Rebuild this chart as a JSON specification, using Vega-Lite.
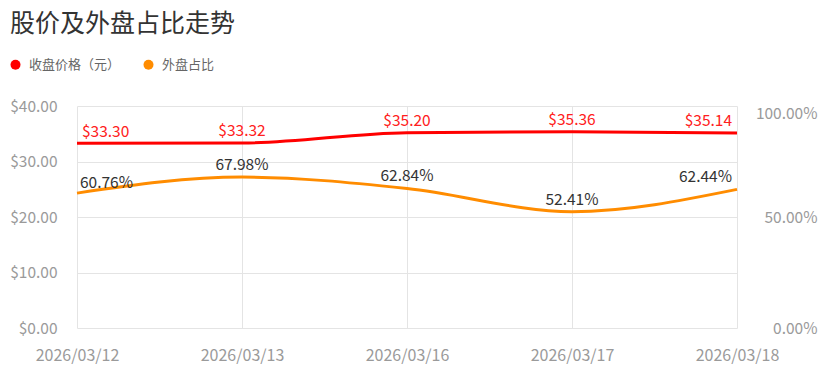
{
  "$schema": "https://vega.github.io/schema/vega-lite/v6.json",
  "width": 660,
  "height": 222,
  "autosize": {"type": "none"},
  "padding": {"left": 77, "top": 106, "right": 89, "bottom": 45},
  "background": "white",
  "title": {
    "text": "股价及外盘占比走势",
    "anchor": "start",
    "frame": "group",
    "dx": -67,
    "offset": 21,
    "fontSize": 25,
    "fontWeight": "normal",
    "font": "Noto Sans CJK SC",
    "color": "#333333"
  },
  "config": {
    "view": {"stroke": null},
    "font": "Noto Sans CJK SC",
    "axis": {"labelFont": "Noto Sans CJK SC", "labelFontSize": 15.5, "labelColor": "#9a9a9a", "ticks": false, "domain": false, "gridColor": "#e4e4e4", "title": null}
  },
  "data": {
    "values": [
      {"date": "2026/03/12", "price": 33.30, "ratio": 0.6076},
      {"date": "2026/03/13", "price": 33.32, "ratio": 0.6798},
      {"date": "2026/03/16", "price": 35.20, "ratio": 0.6284},
      {"date": "2026/03/17", "price": 35.36, "ratio": 0.5241},
      {"date": "2026/03/18", "price": 35.14, "ratio": 0.6244}
    ]
  },
  "encoding": {
    "x": {
      "field": "date",
      "type": "ordinal",
      "scale": {"type": "point", "padding": 0},
      "axis": {"labelAngle": 0, "labelPadding": 19, "labelFontSize": 16, "grid": true, "title": null}
    }
  },
  "layer": [
    {
      "encoding": {
        "y": {
          "field": "price",
          "type": "quantitative",
          "scale": {"domain": [0, 40]},
          "axis": {"orient": "left", "values": [0, 10, 20, 30, 40], "format": "$.2f", "labelPadding": 20, "grid": true, "title": null}
        }
      },
      "layer": [
        {
          "mark": {"type": "line", "interpolate": "monotone", "strokeWidth": 3},
          "encoding": {
            "color": {
              "datum": "收盘价格（元）",
              "type": "nominal",
              "scale": {"domain": ["收盘价格（元）", "外盘占比"], "range": ["#ff0000", "#ff8c00"]},
              "legend": {
                "title": null,
                "orient": "none",
                "direction": "horizontal",
                "legendX": -68,
                "legendY": -48,
                "symbolType": "circle",
                "symbolSize": 100,
                "symbolStrokeWidth": 0,
                "labelFont": "Noto Sans CJK SC",
                "labelFontSize": 13,
                "labelColor": "#666666",
                "labelOffset": 7,
                "columnPadding": 21,
                "encode": {"symbols": {"update": {"fill": {"scale": "color", "field": "value"}, "fillOpacity": {"value": 1}, "strokeWidth": {"value": 0}}}}
              }
            }
          }
        },
        {
          "transform": [{"filter": "datum.date !== '2026/03/12' && datum.date !== '2026/03/18'"}],
          "mark": {"type": "text", "align": "center", "baseline": "middle", "dy": -12, "fontSize": 15.5, "color": "#ff2020"},
          "encoding": {"text": {"field": "price", "type": "quantitative", "format": "$.2f"}}
        },
        {
          "transform": [{"filter": "datum.date === '2026/03/12'"}],
          "mark": {"type": "text", "align": "left", "baseline": "middle", "dx": 5, "dy": -11, "fontSize": 15.5, "color": "#ff2020"},
          "encoding": {"text": {"field": "price", "type": "quantitative", "format": "$.2f"}}
        },
        {
          "transform": [{"filter": "datum.date === '2026/03/18'"}],
          "mark": {"type": "text", "align": "right", "baseline": "middle", "dx": -5, "dy": -12, "fontSize": 15.5, "color": "#ff2020"},
          "encoding": {"text": {"field": "price", "type": "quantitative", "format": "$.2f"}}
        }
      ]
    },
    {
      "encoding": {
        "y": {
          "field": "ratio",
          "type": "quantitative",
          "scale": {"domain": [0, 1]},
          "axis": {
            "orient": "right",
            "values": [0, 0.5, 1],
            "format": ".2%",
            "grid": false,
            "labelAlign": "right",
            "labelPadding": 80,
            "labelBaseline": {"condition": {"test": "datum.value === 1", "value": "top"}, "value": "middle"},
            "title": null
          }
        }
      },
      "layer": [
        {
          "mark": {"type": "line", "interpolate": "monotone", "strokeWidth": 3},
          "encoding": {"color": {"datum": "外盘占比", "type": "nominal"}}
        },
        {
          "transform": [{"filter": "datum.date !== '2026/03/12' && datum.date !== '2026/03/18'"}],
          "mark": {"type": "text", "align": "center", "baseline": "middle", "dy": -12, "fontSize": 15.5, "color": "#333333"},
          "encoding": {"text": {"field": "ratio", "type": "quantitative", "format": ".2%"}}
        },
        {
          "transform": [{"filter": "datum.date === '2026/03/12'"}],
          "mark": {"type": "text", "align": "left", "baseline": "middle", "dx": 3, "dy": -10, "fontSize": 15.5, "color": "#333333"},
          "encoding": {"text": {"field": "ratio", "type": "quantitative", "format": ".2%"}}
        },
        {
          "transform": [{"filter": "datum.date === '2026/03/18'"}],
          "mark": {"type": "text", "align": "right", "baseline": "middle", "dx": -5, "dy": -12, "fontSize": 15.5, "color": "#333333"},
          "encoding": {"text": {"field": "ratio", "type": "quantitative", "format": ".2%"}}
        }
      ]
    }
  ],
  "resolve": {"scale": {"y": "independent"}}
}
